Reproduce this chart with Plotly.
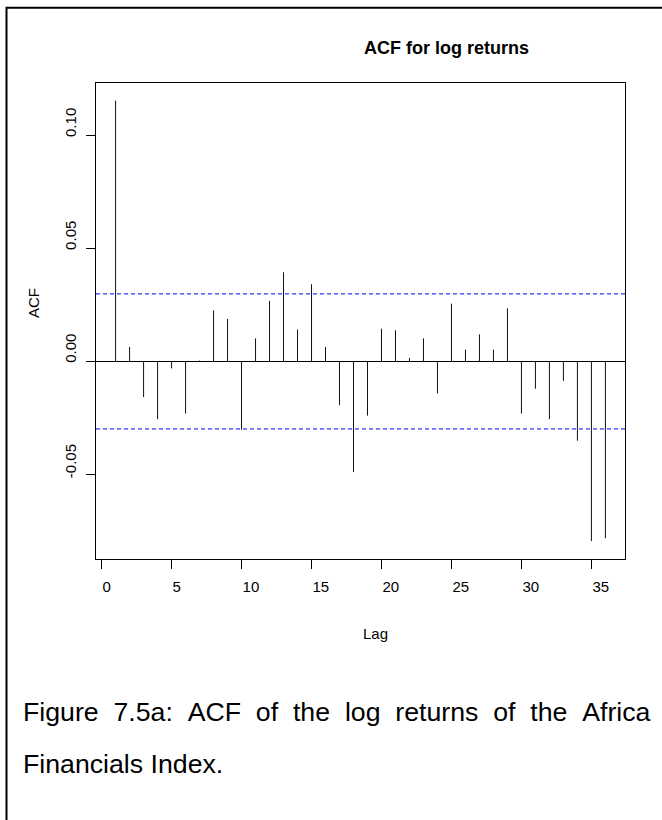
import plotly.graph_objects as go

# ---- data ----
lags = list(range(1, 37))
acf_values = [0.1155, 0.0064, -0.0158, -0.0256, -0.0031, -0.0231, 0.0004, 0.0226,
              0.0188, -0.0302, 0.0102, 0.0268, 0.0395, 0.0141, 0.0342, 0.0064,
              -0.0194, -0.0490, -0.0240, 0.0145, 0.0138, 0.0015, 0.0102, -0.0142,
              0.0256, 0.0052, 0.0120, 0.0052, 0.0235, -0.0231, -0.0121, -0.0256,
              -0.0086, -0.0351, -0.0796, -0.0783]
conf_limit = 0.0299
x_tick_vals = [0, 5, 10, 15, 20, 25, 30, 35]
y_tick_vals = [-0.05, 0.0, 0.05, 0.10]
y_tick_text = ["-0.05", "0.00", "0.05", "0.10"]
title_text = "ACF for log returns"
x_label = "Lag"
y_label = "ACF"
caption_line1 = "Figure 7.5a: ACF of the log returns of the Africa"
caption_line2 = "Financials Index."

# ---- layout constants ----
W, H = 662, 820
ML, MR, MT, MB = 96, 37, 83, 261
PW, PH = W - ML - MR, H - MT - MB
FONT = "Liberation Sans, Arial, Helvetica, sans-serif"


def px_x(px):
    return (px - ML) / PW


def px_y(py):
    return (H - MB - py) / PH


# stems built from data
sx, sy = [], []
for lag, v in zip(lags, acf_values):
    sx += [lag, lag, None]
    sy += [0, v, None]

fig = go.Figure()
fig.add_trace(go.Scatter(x=sx, y=sy, mode="lines",
                         line=dict(color="#111111", width=1),
                         hoverinfo="skip", showlegend=False))

for c in (conf_limit, -conf_limit):
    fig.add_shape(type="line", xref="paper", yref="y", x0=0, x1=1, y0=c, y1=c,
                  line=dict(color="#0000ff", width=1, dash="4px,3px"))

# outer frame (left and top edges visible)
fig.add_shape(type="rect", xref="paper", yref="paper",
              x0=px_x(6.5), x1=px_x(W + 20), y0=px_y(7.7), y1=px_y(H + 20),
              line=dict(color="black", width=2), layer="above")

annotations = [
    dict(text="<b>" + title_text + "</b>", x=px_x(361.5), y=px_y(48),
         xanchor="left", yanchor="middle", font=dict(size=18)),
    dict(text=x_label, x=px_x(361), y=px_y(633), xanchor="left",
         yanchor="middle", font=dict(size=15)),
    dict(text=y_label, x=px_x(33), y=px_y(320), xanchor="center",
         yanchor="bottom", textangle=-90, font=dict(size=15)),
    dict(text=caption_line1.replace(" ", " \u00a0"), x=px_x(21), y=px_y(712),
         xanchor="left", yanchor="middle", font=dict(size=26.7)),
    dict(text=caption_line2, x=px_x(21), y=px_y(764),
         xanchor="left", yanchor="middle", font=dict(size=26.7)),
]
for a in annotations:
    a.update(xref="paper", yref="paper", showarrow=False)
    a["font"].update(family=FONT, color="black")

fig.update_layout(
    width=W, height=H,
    margin=dict(l=ML, r=MR, t=MT, b=MB, pad=0),
    paper_bgcolor="white", plot_bgcolor="white",
    font=dict(family=FONT, size=15, color="black"),
    annotations=annotations,
    showlegend=False,
)
fig.update_xaxes(range=[-0.4, 37.4], tickvals=x_tick_vals, showgrid=False,
                 zeroline=False, showline=True, mirror=True, linecolor="black",
                 linewidth=1, ticks="outside", ticklen=9, tickcolor="black",
                 tickwidth=1, ticklabelposition="outside right",
                 ticklabelstandoff=14,
                 tickfont=dict(size=15, family=FONT, color="black"))
fig.update_yaxes(range=[-0.0875, 0.1233], tickvals=y_tick_vals, ticktext=y_tick_text,
                 showgrid=False, zeroline=True, zerolinecolor="black",
                 zerolinewidth=1, showline=True, mirror=True, linecolor="black",
                 linewidth=1, ticks="outside", ticklen=9, tickcolor="black",
                 tickwidth=1, tickangle=-90, ticklabelposition="outside top",
                 ticklabelstandoff=13,
                 tickfont=dict(size=15, family=FONT, color="black"))

fig.write_html("out.html")
